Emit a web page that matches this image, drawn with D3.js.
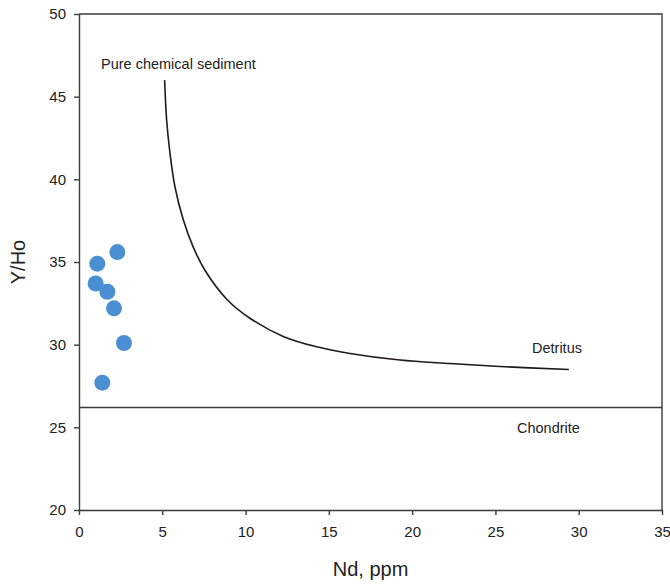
<!DOCTYPE html>
<head>
  <meta charset="utf-8">
  <title>Y/Ho vs Nd</title>
  <style>
    body { margin: 0; padding: 0; background: #fff; }
    svg text { font-family: 'Liberation Sans', Arial, sans-serif; fill: #222; }
    .axis path, .axis line { stroke: #3d3a3a; stroke-width: 1.4; }
    .axis text { font-size: 15px; }
  </style>
</head>
<body>
  <div id="vis"></div>
  <script src="https://cdn.jsdelivr.net/npm/d3@7"></script>
  <script>
    // samples
    var ndValues = [1.1, 2.3, 1.0, 1.7, 2.1, 2.7, 1.4];
    var yhoValues = [34.9, 35.6, 33.7, 33.2, 32.2, 30.1, 27.7];

    // mixing curve
    var curveNd = [5.14, 5.26, 5.46, 5.76, 6.26, 6.86, 7.56, 8.87, 10.26, 12.26, 14.27, 16.27, 19.27, 22.27, 25.27, 29.41];
    var curveYho = [46.0, 43.6, 41.6, 39.55, 37.55, 35.9, 34.5, 32.75, 31.6, 30.5, 29.87, 29.47, 29.07, 28.86, 28.68, 28.5];

    var chondriteYho = 26.2;
    var xTicks = [0, 5, 10, 15, 20, 25, 30, 35];
    var yTicks = [20, 25, 30, 35, 40, 45, 50];

    var width = 670, height = 585,
        margin = {left: 79, right: 8, top: 14, bottom: 75};

    var x = d3.scaleLinear().domain([0, 35]).range([margin.left, width - margin.right]);
    var y = d3.scaleLinear().domain([20, 50]).range([height - margin.bottom, margin.top]);

    var svg = d3.select("#vis").append("svg")
      .attr("width", width)
      .attr("height", height);

    // frame top/right
    svg.append("path")
      .attr("d", "M" + x(0) + "," + y(50) + "H" + x(35) + "V" + y(20))
      .attr("fill", "none")
      .attr("stroke", "#3d3a3a")
      .attr("stroke-width", 1.4);

    svg.append("g")
      .attr("class", "axis")
      .attr("transform", "translate(0," + y(20) + ")")
      .call(d3.axisBottom(x).tickValues(xTicks).tickSize(5).tickPadding(8).tickSizeOuter(0))
      .selectAll("text").attr("dy", "0.9em");

    svg.append("g")
      .attr("class", "axis")
      .attr("transform", "translate(" + x(0) + ",0)")
      .call(d3.axisLeft(y).tickValues(yTicks).tickSize(5).tickPadding(8).tickSizeOuter(0));

    // chondrite line
    svg.append("line")
      .attr("x1", x(0)).attr("x2", x(35))
      .attr("y1", y(chondriteYho)).attr("y2", y(chondriteYho))
      .attr("stroke", "#3d3a3a")
      .attr("stroke-width", 1.4);

    var curvePts = curveNd.map(function(d, i) { return [d, curveYho[i]]; });
    var line = d3.line()
      .x(function(d) { return x(d[0]); })
      .y(function(d) { return y(d[1]); })
      .curve(d3.curveCatmullRom.alpha(0.5));

    svg.append("path")
      .datum(curvePts)
      .attr("d", line)
      .attr("fill", "none")
      .attr("stroke", "#1e1a1a")
      .attr("stroke-width", 1.6);

    svg.append("g")
      .selectAll("circle")
      .data(ndValues)
      .enter().append("circle")
        .attr("cx", function(d) { return x(d); })
        .attr("cy", function(d, i) { return y(yhoValues[i]); })
        .attr("r", 8)
        .attr("fill", "#4a8fd2");

    // annotations
    svg.append("text")
      .attr("x", 101).attr("y", 69)
      .style("font-size", "14.5px")
      .text("Pure chemical sediment");

    svg.append("text")
      .attr("x", 532).attr("y", 352.5)
      .style("font-size", "14.5px")
      .text("Detritus");

    svg.append("text")
      .attr("x", 517).attr("y", 432.5)
      .style("font-size", "14.5px")
      .text("Chondrite");

    svg.append("text")
      .attr("text-anchor", "middle")
      .attr("x", (x(0) + x(35)) / 2)
      .attr("y", 576)
      .style("font-size", "20px")
      .text("Nd, ppm");

    svg.append("text")
      .attr("text-anchor", "middle")
      .attr("transform", "translate(25," + y(35) + ") rotate(-90)")
      .style("font-size", "20px")
      .text("Y/Ho");
  </script>
</body>
